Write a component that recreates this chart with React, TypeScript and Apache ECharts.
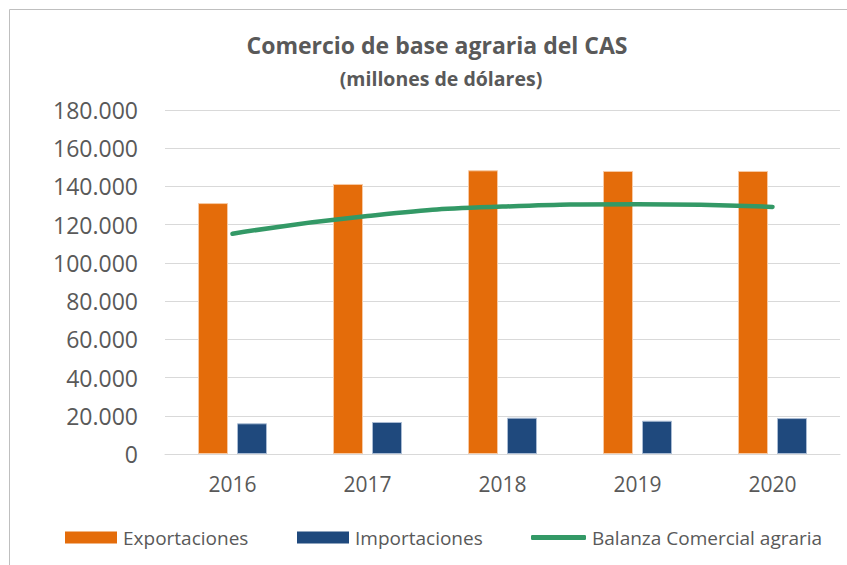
import React, { useEffect, useRef } from "react";
import * as echarts from "echarts";

const years = ["2016", "2017", "2018", "2019", "2020"];
const exportaciones = [131300, 141300, 148450, 148100, 148100];
const importaciones = [16060, 16750, 19000, 17400, 18800];
const balanza = [115240, 124550, 129450, 130700, 129300];

const FONT = "'Open Sans', sans-serif";
const TXT = "#595959";

function fmt(v: number): string {
  return String(Math.round(v)).replace(/\B(?=(\d{3})+(?!\d))/g, ".");
}

export default function App() {
  const ref = useRef<HTMLDivElement>(null);
  useEffect(() => {
    if (!ref.current) return;
    const chart = echarts.init(ref.current, undefined, { renderer: "svg" });
    const legendText = { fontFamily: FONT, fontSize: 19, color: TXT, padding: [0, 0, 0, 1] };
    chart.setOption({
      animation: false,
      backgroundColor: "#ffffff",
      graphic: [
        {
          type: "rect",
          shape: { x: 9.5, y: 9.5, width: 900, height: 600 },
          style: { fill: "none", stroke: "#bfbfbf", lineWidth: 1 },
          silent: true,
        },
      ],
      title: [
        {
          text: "Comercio de base agraria del CAS",
          left: 437,
          textAlign: "center",
          top: 33,
          padding: 0,
          textStyle: { fontFamily: FONT, fontSize: 23, fontWeight: "bold", color: TXT },
        },
        {
          text: "(millones de dólares)",
          left: 441,
          textAlign: "center",
          top: 68,
          padding: 0,
          textStyle: { fontFamily: FONT, fontSize: 19.5, fontWeight: "bold", color: TXT },
        },
      ],
      legend: [
        {
          data: ["Exportaciones"],
          left: 65,
          top: 528,
          padding: 0,
          itemWidth: 52,
          itemHeight: 12,
          icon: "rect",
          itemStyle: { borderWidth: 0 },
          textStyle: legendText,
        },
        {
          data: ["Importaciones"],
          left: 297,
          top: 528,
          padding: 0,
          itemWidth: 52,
          itemHeight: 12,
          icon: "rect",
          itemStyle: { borderWidth: 0 },
          textStyle: legendText,
        },
        {
          data: ["Balanza Comercial agraria"],
          left: 531,
          top: 528,
          padding: 0,
          itemWidth: 55,
          itemHeight: 5,
          icon: "roundRect",
          itemStyle: { borderWidth: 0 },
          textStyle: legendText,
        },
      ],
      grid: { left: 165, right: 7, top: 110, bottom: 111, containLabel: false },
      xAxis: {
        type: "category",
        data: years,
        axisLine: { show: true, lineStyle: { color: "#d9d9d9" } },
        axisTick: { show: false },
        axisLabel: { fontFamily: FONT, fontSize: 21, color: TXT, margin: 19 },
      },
      yAxis: {
        type: "value",
        min: 0,
        max: 180000,
        interval: 20000,
        axisLine: { show: false },
        axisTick: { show: false },
        splitLine: { lineStyle: { color: "#d9d9d9" } },
        axisLabel: {
          fontFamily: FONT,
          fontSize: 23,
          color: TXT,
          margin: 27,
          formatter: (v: number) => fmt(v),
        },
      },
      series: [
        {
          name: "Exportaciones",
          type: "bar",
          data: exportaciones,
          barWidth: 30,
          barGap: "30%",
          itemStyle: { color: "#E46C0A", borderColor: "#f6c9a4", borderWidth: 1 },
        },
        {
          name: "Importaciones",
          type: "bar",
          data: importaciones,
          barWidth: 30,
          barGap: "30%",
          itemStyle: { color: "#1F497D", borderColor: "#a9bbd3", borderWidth: 1 },
        },
        {
          name: "Balanza Comercial agraria",
          type: "line",
          data: balanza,
          smooth: 0.5,
          symbol: "none",
          lineStyle: { color: "#339966", width: 4.5, cap: "round" },
          itemStyle: { color: "#339966" },
        },
      ],
    });
    return () => chart.dispose();
  }, []);
  return (
    <div
      ref={ref}
      style={{ position: "fixed", left: 0, top: 0, width: 847, height: 565 }}
    />
  );
}
